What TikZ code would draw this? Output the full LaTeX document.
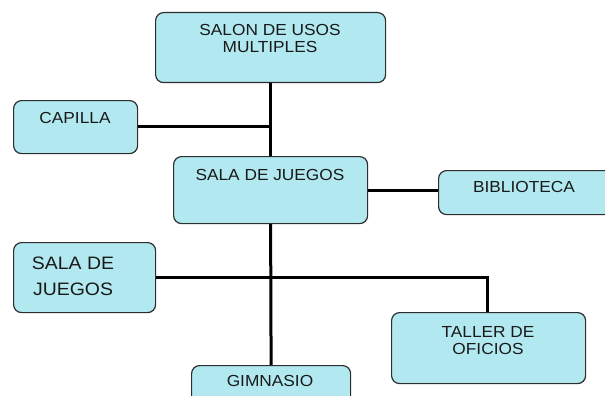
\documentclass[tikz,border=0pt]{standalone}
\usepackage{fontspec}
\newfontfamily\boxfont[FakeStretch=1.08]{Liberation Sans}
\definecolor{boxfill}{RGB}{178,233,241}
\definecolor{boxline}{RGB}{45,45,45}
\tikzset{
  orgbox/.style={draw=boxline, line width=1.2pt, fill=boxfill, rounded corners=8pt,
    inner sep=0pt, anchor=north west},
  boxtxt/.style={inner sep=0pt, anchor=north, align=center, text=black!90,
    font=\boxfont\fontsize{16}{16.5}\selectfont},
  bigtxt/.style={inner sep=0pt, anchor=north, align=center, text=black!90,
    font=\boxfont\fontsize{18}{26.5}\selectfont},
  link/.style={line width=3pt, black}
}
\begin{document}
\begin{tikzpicture}[x=1pt,y=-1pt]
\useasboundingbox (0,0) rectangle (605,396);
\clip (0,0) rectangle (605,396);
% boxes (pixel coordinates, y downwards)
\node[orgbox, minimum width=230pt, minimum height=70pt] (top) at (155,12) {};
\node[orgbox, minimum width=124pt, minimum height=53pt] (cap) at (13,100) {};
\node[orgbox, minimum width=194pt, minimum height=67pt] (mid) at (173,156) {};
\node[orgbox, minimum width=190pt, minimum height=44pt] (bib) at (438,170) {};
\node[orgbox, minimum width=142pt, minimum height=70pt] (left) at (13,242) {};
\node[orgbox, minimum width=194pt, minimum height=71pt] (tal) at (391,312) {};
\node[orgbox, minimum width=159pt, minimum height=50pt] (gym) at (191,365) {};
% texts
\node[boxtxt] (topt) at (270,24.5) {SALON DE USOS\\MULTIPLES};
\node[boxtxt] (capt) at (75,112.5) {CAPILLA};
\node[boxtxt] (midt) at (270,169.5) {SALA DE JUEGOS};
\node[boxtxt] (bibt) at (524,181.5) {BIBLIOTECA};
\node[bigtxt] (leftt) at (73,256.5) {SALA DE\\JUEGOS};
\node[boxtxt] (talt) at (488,326.5) {TALLER DE\\OFICIOS};
\node[boxtxt] (gymt) at (270,375.5) {GIMNASIO};
% connectors
\coordinate (j1) at (270,126);
\coordinate (j2) at (270,277);
\coordinate (j3) at (487,277);
\draw[link] (top.south) -- (mid.north);
\draw[link] (cap.east |- j1) -- (j1);
\draw[link] (mid.east |- 0,190) -- (bib.west |- 0,190);
\draw[link] (mid.south) -- (gym.north);
\draw[link] (left.east |- j2) -- (j3) -- (j3 |- tal.north);
\end{tikzpicture}
\end{document}
